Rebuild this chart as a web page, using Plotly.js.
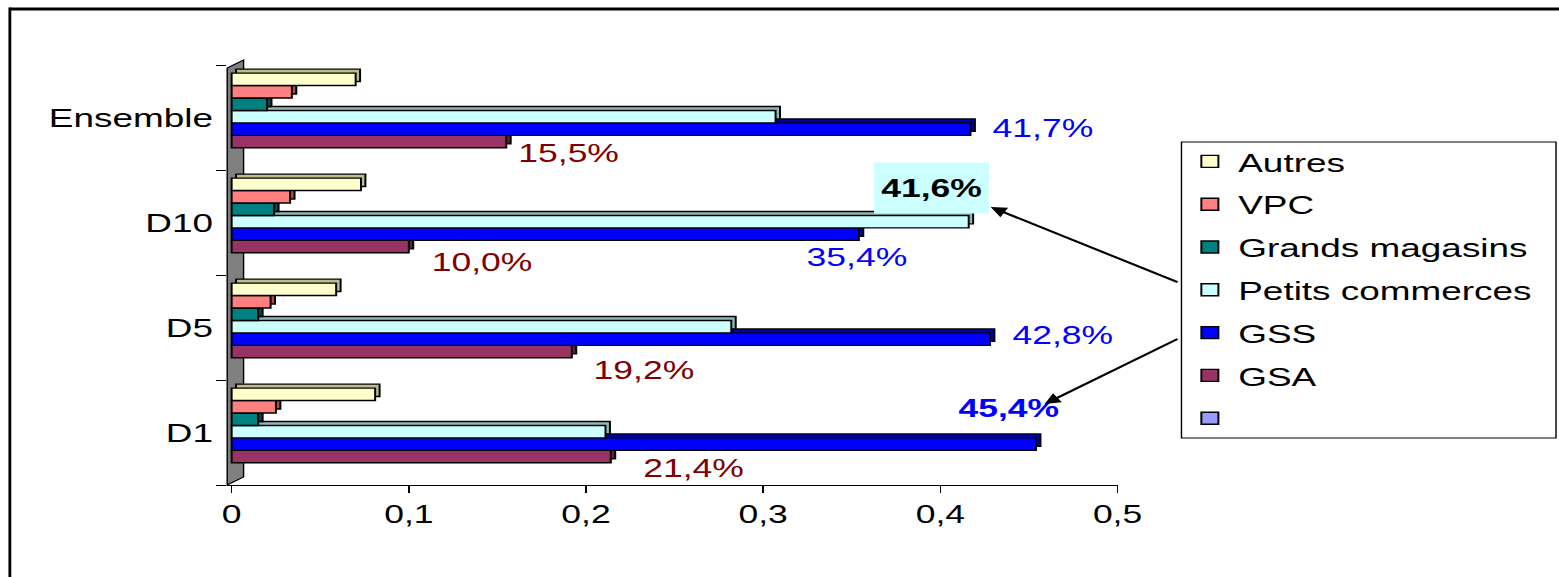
<!DOCTYPE html>
<html>
<head>
<meta charset="utf-8">
<script src="https://cdn.plot.ly/plotly-3.0.1.min.js"></script>
<style>
  html, body { margin: 0; padding: 0; background: #ffffff; overflow: hidden; }
  #wrap { width: 1098px; height: 577px; transform: scaleX(1.42); transform-origin: 0 0; }
  #chart { width: 1098px; height: 577px; }
</style>
</head>
<body>
<div id="wrap"><div id="chart"></div></div>
<script>
// Share of purchases by retail channel, by income decile
const categories = ['D1', 'D5', 'D10', 'Ensemble'];
const gsa      = [0.214, 0.192, 0.100, 0.155];
const gss      = [0.454, 0.428, 0.354, 0.417];
const petits   = [0.211, 0.282, 0.416, 0.307];
const grands   = [0.015, 0.015, 0.024, 0.020];
const vpc      = [0.025, 0.022, 0.033, 0.034];
const autres   = [0.081, 0.059, 0.073, 0.070];
const noSeries = [null, null, null, null];
const xTicks   = [0, 0.1, 0.2, 0.3, 0.4, 0.5];

// Horizontal stretch applied to the whole drawing (see #wrap)
const S = 1.42;
const W = 1098, H = 577;
const L = 159.58, R = 787.32, T = 65, B = 485;
const X0 = -0.0025, X1 = 0.5;

const FONT = 'Liberation Sans, Arial, sans-serif';

// pixel (of the stretched page) -> paper coordinates
const pxX = p => (p / S - L) / (R - L);
const pxY = p => (B - p) / (B - T);

// series from the bottom slot of each group to the top slot
const series = [
  { name: '',                  values: noSeries, color: '#9999FF', side: '#6666B3' },
  { name: 'GSA',               values: gsa,      color: '#993366', side: '#5E1F40' },
  { name: 'GSS',               values: gss,      color: '#0000FF', side: '#0000A8' },
  { name: 'Petits commerces',  values: petits,   color: '#CCFFFF', side: '#8FB8B8' },
  { name: 'Grands magasins',   values: grands,   color: '#008080', side: '#004D4D' },
  { name: 'VPC',               values: vpc,      color: '#FF8080', side: '#B04A4A' },
  { name: 'Autres',            values: autres,   color: '#FFFFCC', side: '#BDBD8C' }
];

const slotPitch = 0.1185;
const groupStart = -0.4068;
const depthX = 0.0025;   // bar depth along the value axis
const depthY = 0.038;    // bar depth along the category axis

const traces = [];
// depth faces first, so the front faces sit on top of them
series.forEach((s, i) => {
  if (s.values.every(v => v === null)) return;
  traces.push({
    type: 'bar', orientation: 'h',
    y: categories, x: s.values,
    base: depthX,
    offset: groupStart + i * slotPitch + depthY,
    width: slotPitch,
    marker: { color: s.side, line: { color: '#000000', width: 1.4 } },
    showlegend: false, hoverinfo: 'skip'
  });
});
series.forEach((s, i) => {
  traces.push({
    type: 'bar', orientation: 'h',
    name: s.name, legendgroup: 'g' + i, legendrank: 10 * (series.length - i),
    y: categories, x: s.values,
    offset: groupStart + i * slotPitch,
    width: slotPitch,
    marker: { color: s.color, line: { color: '#000000', width: 1.4 } },
    hoverinfo: 'skip'
  });
});

const fmt = v => (v * 100).toFixed(1).replace('.', ',') + '%';

// value labels: which series / category, and where the text sits next to the bar end
const labelSpecs = [
  { s: gsa, c: 3, color: '#800000', anchor: 'left',   dx: 6.3,   dy: -35.5 },
  { s: gsa, c: 2, color: '#800000', anchor: 'left',   dx: 13.8,  dy: -39.5 },
  { s: gsa, c: 1, color: '#800000', anchor: 'left',   dx: 13,    dy: -42.5 },
  { s: gsa, c: 0, color: '#800000', anchor: 'left',   dx: 20.7,  dy: -35.5 },
  { s: gss, c: 3, color: '#0000FF', anchor: 'left',   dx: 13.5,  dy: -10.5 },
  { s: gss, c: 2, color: '#0000FF', anchor: 'center', dx: -1.4,  dy: -34.5 },
  { s: gss, c: 1, color: '#0000FF', anchor: 'left',   dx: 13.9,  dy: -7.5 },
  { s: gss, c: 0, color: '#0000FF', anchor: 'center', dx: -19,   dy: 24.5, bold: true },
  { s: petits, c: 2, color: '#000000', anchor: 'center', dx: -26.4, dy: 34.5, bold: true, bg: '#CCFFFF' }
];

const annotations = labelSpecs.map(sp => {
  const a = {
    xref: 'x', yref: 'y',
    x: sp.s[sp.c], y: categories[sp.c],
    text: sp.bold ? '<b>' + fmt(sp.s[sp.c]) + '</b>' : fmt(sp.s[sp.c]),
    showarrow: false,
    xanchor: sp.anchor, yanchor: 'middle',
    xshift: sp.dx, yshift: sp.dy,
    font: { family: FONT, size: 25, color: sp.color }
  };
  if (sp.bg) { a.bgcolor = sp.bg; a.width = 78; a.height = 48; }
  return a;
});

// pointers from the legend to the highlighted values
annotations.push({
  xref: 'paper', yref: 'paper', x: pxX(991), y: pxY(207),
  ax: (1180 - 991) / S, ay: 283 - 207, axref: 'pixel', ayref: 'pixel',
  text: '', showarrow: true, arrowhead: 2, arrowsize: 1.1, arrowwidth: 2,
  arrowcolor: '#000000', standoff: 0
});
annotations.push({
  xref: 'paper', yref: 'paper', x: pxX(1045), y: pxY(404),
  ax: (1180 - 1045) / S, ay: 338 - 404, axref: 'pixel', ayref: 'pixel',
  text: '', showarrow: true, arrowhead: 2, arrowsize: 1.1, arrowwidth: 2,
  arrowcolor: '#000000', standoff: 0
});

const shapes = [
  // side wall of the 3-D plot
  {
    type: 'path', xref: 'paper', yref: 'paper', layer: 'below',
    path: 'M' + pxX(226.6) + ',' + pxY(68) +
          ' L' + pxX(243) + ',' + pxY(60) +
          ' L' + pxX(243) + ',' + pxY(477) +
          ' L' + pxX(226.6) + ',' + pxY(485) + ' Z',
    fillcolor: '#808080', line: { color: '#000000', width: 1 }
  },
  // legend box
  {
    type: 'rect', xref: 'paper', yref: 'paper', layer: 'above',
    x0: pxX(1182), y0: pxY(142), x1: pxX(1557), y1: pxY(438),
    fillcolor: '#ffffff', line: { color: '#000000', width: 1 }
  },
  // outer frame
  {
    type: 'line', xref: 'paper', yref: 'paper',
    x0: pxX(9), y0: pxY(9), x1: pxX(1570), y1: pxY(9),
    line: { color: '#000000', width: 3 }
  },
  {
    type: 'line', xref: 'paper', yref: 'paper',
    x0: pxX(9), y0: pxY(7.5), x1: pxX(9), y1: pxY(590),
    line: { color: '#000000', width: 2 }
  }
];

const layout = {
  width: W, height: H,
  margin: { l: L, r: W - R, t: T, b: H - B, autoexpand: false },
  paper_bgcolor: '#ffffff', plot_bgcolor: 'rgba(0,0,0,0)',
  separators: ', ',
  barmode: 'overlay',
  font: { family: FONT, size: 25, color: '#000000' },
  showlegend: true,
  legend: {
    x: pxX(1182), y: pxY(138), xanchor: 'left', yanchor: 'top',
    bgcolor: 'rgba(0,0,0,0)', borderwidth: 0,
    font: { family: FONT, size: 26, color: '#000000' },
    traceorder: 'grouped', tracegroupgap: 6,
    itemclick: false, itemdoubleclick: false
  },
  xaxis: {
    range: [X0, X1], tickvals: xTicks,
    showgrid: false, zeroline: false,
    showline: true, linecolor: '#000000', linewidth: 1,
    ticks: 'outside', ticklen: 7, tickwidth: 1, tickcolor: '#000000',
    tickfont: { family: FONT, size: 25, color: '#000000' },
    fixedrange: true
  },
  yaxis: {
    type: 'category', categoryorder: 'array', categoryarray: categories,
    range: [-0.5, 3.5],
    showgrid: false, zeroline: false, showline: false,
    ticks: 'outside', tickson: 'boundaries', ticklen: 7, tickwidth: 1, tickcolor: '#000000',
    ticklabelstandoff: 9,
    tickfont: { family: FONT, size: 26, color: '#000000' },
    fixedrange: true
  },
  shapes: shapes,
  annotations: annotations
};

Plotly.newPlot('chart', traces, layout, { staticPlot: true, displayModeBar: false });
</script>
</body>
</html>
